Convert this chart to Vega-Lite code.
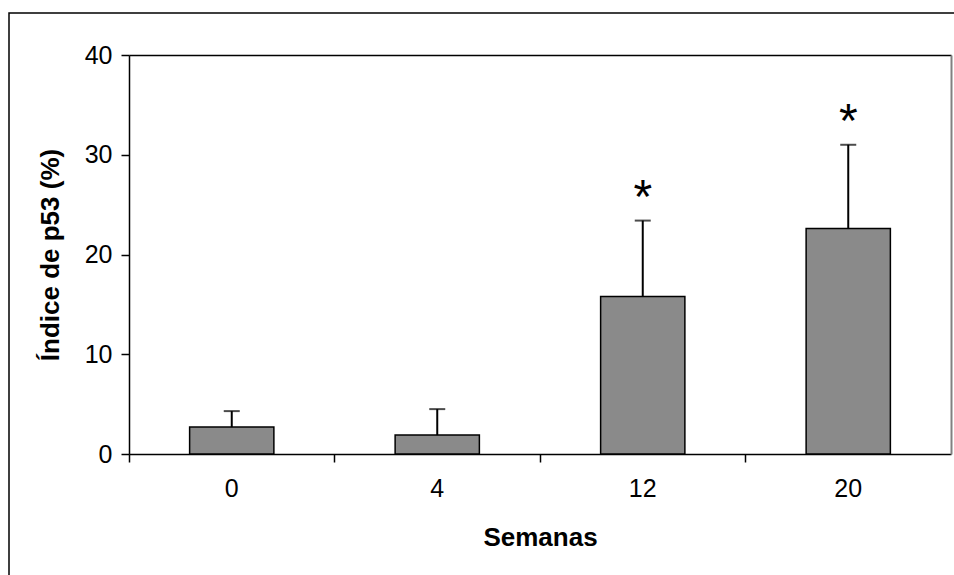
{
  "$schema": "https://vega.github.io/schema/vega-lite/v6.json",
  "autosize": {"type": "none"},
  "padding": {"left": 9, "top": 13, "right": 0, "bottom": 0},
  "width": 960,
  "height": 600,
  "background": "white",
  "config": {
    "view": {"stroke": "#000000", "strokeWidth": 1.5},
    "font": "Liberation Sans",
    "axis": {"grid": false, "labelFont": "Liberation Sans", "titleFont": "Liberation Sans", "labelColor": "#000000", "titleColor": "#000000", "domainColor": "#000000", "tickColor": "#000000", "domainWidth": 1.5, "tickWidth": 1.5}
  },
  "data": {
    "values": [
      {"semana": "0", "media": 2.7, "superior": 4.3, "sig": ""},
      {"semana": "4", "media": 1.9, "superior": 4.5, "sig": ""},
      {"semana": "12", "media": 15.8, "superior": 23.4, "sig": "*"},
      {"semana": "20", "media": 22.6, "superior": 31.0, "sig": "*"}
    ]
  },
  "resolve": {"axis": {"x": "independent", "y": "independent"}},
  "layer": [
    {
      "mark": {"type": "bar", "fill": "#8a8a8a", "stroke": "#000000", "strokeWidth": 1.5, "width": {"band": 0.41}},
      "encoding": {
        "x": {"field": "semana", "type": "ordinal", "sort": ["0", "4", "12", "20"],
              "scale": {"range": [120, 942], "paddingInner": 0, "paddingOuter": 0},
              "axis": {"orient": "bottom", "offset": -159, "ticks": false, "labelAngle": 0, "labelFontSize": 25, "labelPadding": 22, "title": "Semanas", "titleFontSize": 26, "titleFontWeight": "bold", "titlePadding": 23}},
        "y": {"field": "media", "type": "quantitative",
              "scale": {"domain": [0, 40], "range": [441, 42], "nice": false, "zero": true},
              "axis": {"orient": "left", "offset": -120, "values": [0, 10, 20, 30, 40], "tickSize": 8, "labelFontSize": 25, "labelPadding": 9, "title": "Índice de p53 (%)", "titleFontSize": 26, "titleFontWeight": "bold", "titlePadding": 21}}
      }
    },
    {
      "mark": {"type": "rule", "color": "#000000", "strokeWidth": 2},
      "encoding": {
        "x": {"field": "semana", "type": "ordinal", "sort": ["0", "4", "12", "20"],
              "axis": {"orient": "bottom", "offset": -159, "labels": false, "domain": false, "ticks": true, "tickSize": 8, "bandPosition": 0, "title": null}},
        "y": {"field": "media", "type": "quantitative",
              "axis": {"orient": "right", "offset": -18, "labels": false, "ticks": false, "domain": true, "domainColor": "#808080", "domainWidth": 2, "title": null}},
        "y2": {"field": "superior"}
      }
    },
    {
      "mark": {"type": "tick", "color": "#000000", "size": 16, "thickness": 2},
      "encoding": {
        "x": {"field": "semana", "type": "ordinal", "sort": ["0", "4", "12", "20"],
              "axis": {"orient": "top", "offset": -42, "labels": false, "ticks": false, "domain": true, "title": null}},
        "y": {"field": "superior", "type": "quantitative", "axis": null}
      }
    },
    {
      "transform": [{"filter": "datum.sig != ''"}],
      "mark": {"type": "text", "font": "Liberation Sans", "fontSize": 48, "color": "#000000", "baseline": "middle", "align": "center", "dy": -22},
      "encoding": {
        "x": {"field": "semana", "type": "ordinal", "sort": ["0", "4", "12", "20"], "axis": null},
        "y": {"field": "superior", "type": "quantitative", "axis": null},
        "text": {"field": "sig"}
      }
    }
  ]
}
